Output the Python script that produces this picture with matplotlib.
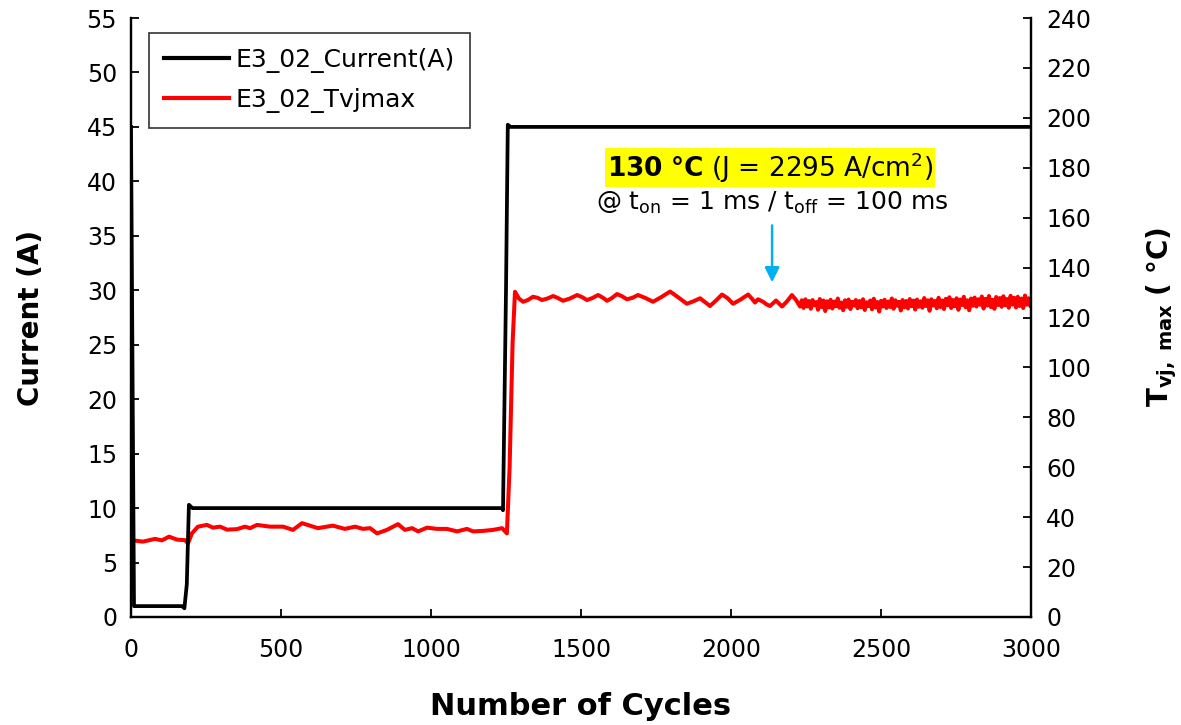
import numpy as np
import matplotlib
matplotlib.use("Agg")
import matplotlib.pyplot as plt
from matplotlib.lines import Line2D

plt.rcParams['font.family'] = ['DejaVu Sans']
plt.rcParams['mathtext.fontset'] = 'dejavusans'

# ---- Current (A) ----
current_cycles = [0, 10, 20, 170, 178, 186, 193, 205, 1236, 1240, 1250, 1256, 1265, 3000]
current_amps = [45.0, 1.0, 1.0, 1.0, 0.8, 3.0, 10.3, 10.0, 10.0, 9.8, 30.0, 45.2, 45.0, 45.0]

# ---- Tvj,max (°C), slow wiggly part ----
temp_cycles = [0, 40, 80, 103, 127, 153, 180, 190, 203, 223, 253, 273, 297, 320, 353, 380,
               397, 420, 463, 507, 540, 570, 597, 623, 673, 713, 747, 773, 797, 820, 853, 890,
               913, 937, 957, 987, 1020, 1053, 1087, 1120, 1140, 1173, 1207, 1237, 1253, 1262,
               1272, 1280, 1293, 1307, 1323, 1340, 1355, 1370, 1388, 1407, 1423, 1440, 1463,
               1487, 1503, 1520, 1538, 1557, 1572, 1587, 1603, 1620, 1637, 1653, 1672, 1690,
               1715, 1740, 1768, 1797, 1825, 1853, 1875, 1897, 1913, 1930, 1950, 1970, 1988,
               2007, 2032, 2057, 2070, 2080, 2090, 2107, 2118, 2130, 2150, 2170, 2187, 2203,
               2217, 2230]
temp_vals = [30.8, 30.2, 31.3, 30.7, 32.2, 31.0, 30.8, 29.5, 33.5, 36.2, 36.9, 35.8, 36.2, 35.0,
             35.2, 36.2, 35.6, 36.9, 36.2, 36.2, 34.9, 37.6, 36.6, 35.6, 36.6, 35.3, 36.2, 35.3,
             35.6, 33.5, 34.9, 37.2, 34.9, 35.6, 34.3, 35.8, 35.3, 35.3, 34.3, 35.3, 34.3, 34.5,
             34.9, 35.6, 33.5, 60.0, 110.0,
             130.3, 127.6, 126.3, 127.0, 128.3, 127.9, 127.0, 127.6, 128.6, 127.8, 126.7, 127.6,
             129.0, 128.2, 127.0, 127.8, 129.0, 128.0, 126.7, 127.8, 129.4, 128.5, 127.3, 127.9,
             129.0, 127.8, 126.3, 128.2, 130.4, 128.0, 125.5, 126.5, 127.7, 126.2, 124.6, 126.8,
             129.2, 127.8, 125.5, 127.2, 129.2, 127.5, 126.0, 127.3, 126.3, 125.3, 124.6, 126.8,
             124.4, 126.5, 129.0, 127.0, 124.4]

# ---- Tvj,max (°C), fast noisy part (every 6 cycles from 2236) ----
noise_start = 2236
noise_step = 6
noise_vals = [
    126.9, 123.8, 127.3, 124.4, 126.6, 123.5, 127.0, 124.9, 126.2, 123.1, 127.4, 124.2, 126.8, 122.6, 126.5, 124.0,
    127.1, 123.6, 126.4, 124.5, 127.6, 123.9, 126.0, 122.9, 126.9, 124.3, 127.2, 123.4, 126.3, 124.8, 127.0, 123.7,
    126.6, 124.1, 127.3, 123.0, 126.1, 124.6, 126.8, 123.3, 127.5, 124.0, 126.2, 122.4, 126.7, 124.4, 127.1, 123.8,
    126.4, 124.2, 127.6, 123.5, 126.9, 124.7, 126.3, 122.8, 127.0, 124.1, 126.6, 123.6, 127.4, 124.5, 126.8, 123.2,
    127.2, 124.3, 126.5, 123.9, 127.8, 124.6, 126.9, 122.7, 127.3, 124.8, 126.6, 123.7, 127.9, 124.2, 126.8, 123.4,
    127.5, 124.9, 128.1, 123.8, 127.0, 124.5, 127.7, 123.1, 127.2, 125.0, 128.3, 124.1, 126.9, 122.9, 127.6, 124.7,
    128.0, 124.4, 127.3, 125.1, 128.4, 123.6, 127.5, 124.8, 128.6, 124.2, 127.1, 123.5, 128.2, 125.0, 127.8, 124.3,
    128.5, 124.9, 127.4, 123.9, 128.7, 125.2, 127.9, 124.0, 128.3, 124.6, 127.6, 123.8, 128.8, 125.1, 127.7, 124.5,
]

x_ticks = [0, 500, 1000, 1500, 2000, 2500, 3000]
left_ticks = [0, 5, 10, 15, 20, 25, 30, 35, 40, 45, 50, 55]
right_ticks = [0, 20, 40, 60, 80, 100, 120, 140, 160, 180, 200, 220, 240]

noise_cycles = noise_start + noise_step * np.arange(len(noise_vals))
all_temp_x = np.concatenate([temp_cycles, noise_cycles])
all_temp_y = np.concatenate([temp_vals, noise_vals])

fig = plt.figure(figsize=(11.81, 7.25), dpi=100)
ax = fig.add_axes([131 / 1181, 1 - 617 / 725, 900 / 1181, 599 / 725])
ax2 = ax.twinx()

red = '#FF0000'
ax2.plot(all_temp_x, all_temp_y, color=red, lw=2.9, solid_joinstyle='round', solid_capstyle='round')
ax.plot(current_cycles, current_amps, color='black', lw=2.7, solid_joinstyle='round')

ax.set_zorder(ax2.get_zorder() + 1)
ax.patch.set_visible(False)

ax.set_xlim(0, 3000)
ax.set_ylim(0, 55)
ax2.set_ylim(0, 240)
ax.set_xticks(x_ticks)
ax.set_yticks(left_ticks)
ax2.set_yticks(right_ticks)

for a in (ax, ax2):
    a.spines['top'].set_visible(False)
    for s in ('left', 'right', 'bottom'):
        a.spines[s].set_linewidth(1.6)
        a.spines[s].set_color('black')
ax.tick_params(axis='both', direction='in', length=6, width=1.3, labelsize=17, pad=10)
ax2.tick_params(axis='y', direction='in', length=6, width=1.3, labelsize=17, pad=11)
ax.tick_params(axis='x', pad=15)

ax.set_xlabel('Number of Cycles', fontsize=22, fontweight='bold', labelpad=22)
ax.set_ylabel('Current (A)', fontsize=20, fontweight='bold', labelpad=30)
ax2.set_ylabel(r'$\mathbf{T_{vj,\ max}}$ $\mathbf{(\ °C)}$', fontsize=20, labelpad=38)

handles = [Line2D([], [], color='black', lw=3), Line2D([], [], color=red, lw=3)]
leg = ax.legend(handles, ['E3_02_Current(A)', 'E3_02_Tvjmax'], loc='upper left',
                bbox_to_anchor=(0.02, 0.975), borderaxespad=0, fontsize=18, frameon=True,
                fancybox=False, handlelength=2.6, handletextpad=0.25, borderpad=0.6,
                labelspacing=0.6)
leg.get_frame().set_edgecolor('black')
leg.get_frame().set_linewidth(1.2)

ax2.text(2130, 180, r'$\mathbf{130\ °C}$ (J = 2295 A/cm$^{2}$)', fontsize=19, ha='center', va='center',
         bbox=dict(facecolor='#FFFF00', edgecolor='none', pad=1.5))
ax2.text(2137, 166, r'@ t$_{\mathrm{on}}$ = 1 ms / t$_{\mathrm{off}}$ = 100 ms', fontsize=18,
         ha='center', va='center')
ax2.annotate('', xy=(2137, 133), xytext=(2137, 158),
             arrowprops=dict(arrowstyle='-|>', color='#00B0F0', lw=1.8, mutation_scale=22))

fig.savefig('out.png', dpi=100)
